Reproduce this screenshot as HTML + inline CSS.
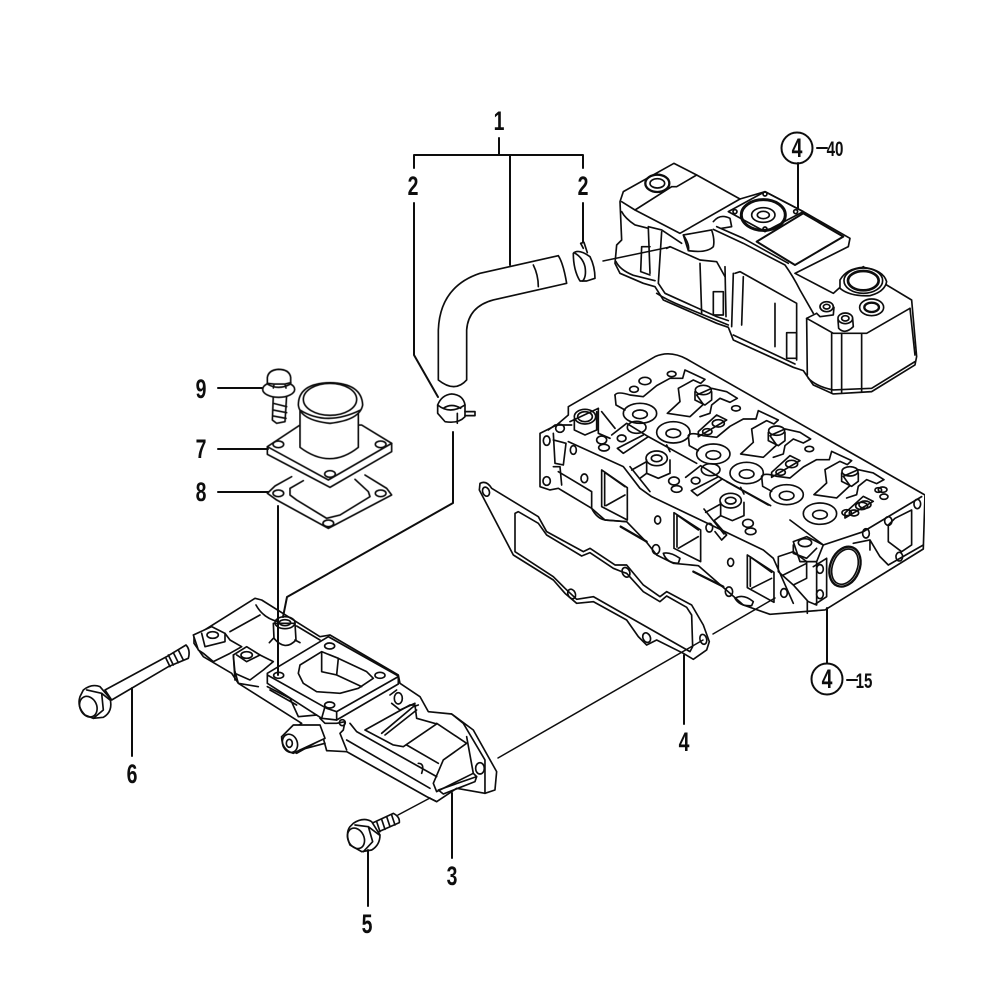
<!DOCTYPE html>
<html><head><meta charset="utf-8"><style>
html,body{margin:0;padding:0;background:#fff}
svg{display:block}
.l{fill:none;stroke:#111;stroke-width:1.6;stroke-linejoin:round;stroke-linecap:round}
.z path,.z ellipse,.z circle,.z line,.z polyline{stroke-width:5}
.w{fill:#fff}
.n{font:bold 27px "Liberation Sans",sans-serif;fill:#111;text-anchor:middle}
.m{font:bold 21px "Liberation Sans",sans-serif;fill:#111;text-anchor:middle}
</style></head><body>
<svg width="1000" height="1000" viewBox="0 0 1000 1000" xmlns="http://www.w3.org/2000/svg">
<defs>
<filter id="b" x="0" y="0" width="100%" height="100%"><feGaussianBlur stdDeviation="0.3"/></filter>
<g id="unit" fill="none" stroke="#111" stroke-width="5" stroke-linejoin="round">
<path d="M255 150Q262 138 300 150L340 155L380 122L420 100L458 100L465 75L525 103L512 115L490 105L445 130L450 170L412 205L480 215L520 178L500 150L545 130L590 140L622 160L600 172L570 160L545 180L540 205L510 215"/>
<path d="M255 150L258 180L285 195"/>
<ellipse cx="330" cy="205" rx="50" ry="30"/><ellipse cx="330" cy="208" rx="22" ry="13"/>
<ellipse cx="430" cy="262" rx="50" ry="32"/><ellipse cx="430" cy="265" rx="22" ry="13"/>
<ellipse cx="520" cy="135" rx="24" ry="14"/>
<path d="M495 140V165L525 180L545 165V140"/>
<ellipse cx="565" cy="235" rx="18" ry="11"/><ellipse cx="532" cy="260" rx="14" ry="9"/>
<ellipse cx="618" cy="190" rx="13" ry="8"/>
<path d="M505 260L560 210L590 225L505 275Z"/>
</g>
<g id="pocket" fill="none" stroke="#111" stroke-width="5" stroke-linejoin="round">
<ellipse cx="320" cy="247" rx="28" ry="18"/>
<path d="M245 270L290 235L355 275L280 325L262 310L340 270"/>
<ellipse cx="275" cy="280" rx="13" ry="10"/>
<ellipse cx="380" cy="340" rx="32" ry="22"/><ellipse cx="380" cy="340" rx="16" ry="10"/>
<path d="M350 345V385L385 400L420 385V345"/>
<path d="M305 375L350 350M330 400L350 385"/>
<ellipse cx="432" cy="408" rx="16" ry="12"/><ellipse cx="440" cy="432" rx="16" ry="10"/>
<path d="M355 275L500 355M420 320L410 300"/>
<path d="M300 365L360 440"/>
</g>
</defs>
<g filter="url(#b)">

<!-- Valve cover -->
<g class="l z" transform="translate(600 130) scale(.3333)">
<path class="w" d="M70 185L222 100L290 135L420 207L495 185L610 245L750 325L745 350L585 430L700 490L790 410L860 465L935 510L950 680L945 705L815 785L700 792L640 765L610 722L580 712L400 630L385 592L350 580L190 510L165 470L130 460L60 430L45 400L50 345L65 330L60 215Z"/>
<path d="M105 240L215 170M215 170L230 170L290 135M105 240L240 310L420 207M105 240L65 215"/>
<path d="M65 245Q75 265 105 285L145 295L150 430M145 290L185 300L245 340"/>
<ellipse cx="172" cy="160" rx="36" ry="26" style="stroke-width:7"/><ellipse cx="172" cy="160" rx="22" ry="14"/>
<path d="M125 350L122 425L150 435M125 350L150 350"/>
<path d="M48 395Q60 420 100 436L165 452M170 490Q200 510 250 530L385 585M400 615L585 702M625 745Q650 770 700 780L815 775L945 695"/>
<path d="M185 305L175 460L195 490L350 560L385 572"/>
<path d="M300 400L305 550M375 410L378 560"/>
<path d="M200 355L210 350L300 390L350 395L375 440"/>
<path d="M340 485H370V555H340Z"/>
<path class="w" d="M250 315L335 300Q345 330 340 350Q320 370 265 362Z"/>
<path d="M250 315Q270 345 265 362"/>
<path d="M385 245L495 185L610 245L495 305Z"/>
<ellipse cx="490" cy="255" rx="66" ry="46" style="stroke-width:9"/>
<ellipse cx="490" cy="255" rx="35" ry="22"/><ellipse cx="490" cy="255" rx="18" ry="11"/>
<circle cx="495" cy="192" r="6"/><circle cx="587" cy="245" r="6"/><circle cx="495" cy="297" r="6"/><circle cx="405" cy="245" r="6"/>
<path d="M340 275Q360 250 390 265L395 290L365 295"/>
<path d="M470 335L610 250L730 320L585 405Z" style="stroke-width:6"/>
<path d="M340 298L430 340L555 405Q580 440 600 480L640 550"/>
<path d="M350 290L430 325L565 400"/>
<path d="M405 430L420 425L590 520L590 690"/>
<path d="M400 430L395 590M430 440L425 585M525 520L525 650"/>
<path d="M560 608H590V685H560Z"/>
<path class="w" d="M720 450Q740 415 790 412Q850 420 860 455Q855 485 810 497Q750 500 720 475Z"/>
<ellipse cx="790" cy="452" rx="58" ry="38"/><ellipse cx="790" cy="452" rx="46" ry="29" style="stroke-width:8"/>
<ellipse cx="815" cy="532" rx="36" ry="25"/><ellipse cx="815" cy="532" rx="22" ry="14" style="stroke-width:7"/>
<ellipse cx="680" cy="530" rx="20" ry="15"/><ellipse cx="680" cy="530" rx="10" ry="7"/>
<path d="M650 550L660 560L700 555L702 532"/>
<ellipse cx="736" cy="565" rx="22" ry="16"/><ellipse cx="736" cy="565" rx="11" ry="8"/>
<path d="M714 570L716 595Q735 615 760 590L758 565"/>
<path d="M620 565L700 610L800 610L930 535"/><path d="M620 565L622 735M650 550L620 565"/>
<path d="M695 610V790M725 612V790M785 612V785"/>
<path d="M930 535L945 675"/>
</g>

<!-- Cylinder head -->
<g class="l z" transform="translate(530 345) scale(.3333)">
<path class="w" d="M115 185L375 35Q420 15 470 42L1185 450L1180 612L885 795L720 808L640 780L600 745L505 662L430 655L380 630L350 592L290 530L225 525L185 490L85 430L60 435L30 425V265L80 240L115 210Z"/>
<use href="#unit"/><use href="#unit" transform="translate(220 122)"/><use href="#unit" transform="translate(440 244)"/>
<ellipse cx="345" cy="108" rx="18" ry="11"/><ellipse cx="312" cy="133" rx="13" ry="9"/><ellipse cx="425" cy="87" rx="13" ry="8"/>
<ellipse cx="1045" cy="435" rx="10" ry="7"/><ellipse cx="1062" cy="455" rx="12" ry="8"/><ellipse cx="995" cy="483" rx="18" ry="11"/><ellipse cx="950" cy="503" rx="14" ry="9"/>
<use href="#pocket"/>
<use href="#pocket" transform="translate(222 127)"/>
<path d="M120 230L205 190M590 410L715 480M780 525L880 600"/>
<ellipse cx="165" cy="215" rx="22" ry="15"/><ellipse cx="165" cy="215" rx="32" ry="22"/>
<path d="M133 222V255L165 270L200 255V200"/>
<path d="M205 190V265L240 280M215 200L255 250"/>
<ellipse cx="215" cy="285" rx="15" ry="12"/><ellipse cx="222" cy="308" rx="16" ry="10"/>
<ellipse cx="90" cy="250" rx="13" ry="12"/>
<path d="M55 255L75 240L125 240M70 265L75 355L100 360L108 295L70 285"/>
<ellipse cx="50" cy="287" rx="10" ry="14"/><ellipse cx="50" cy="408" rx="11" ry="13"/>
<path d="M70 365L90 365L95 420"/>
<path d="M115 290L280 365L330 430L365 455L700 615L730 640L790 775"/>
<ellipse cx="130" cy="315" rx="9" ry="13"/><ellipse cx="163" cy="400" rx="10" ry="13"/>
<ellipse cx="383" cy="525" rx="9" ry="12"/><ellipse cx="538" cy="548" rx="10" ry="13"/><ellipse cx="602" cy="652" rx="9" ry="12"/>
<ellipse cx="378" cy="613" rx="11" ry="14"/><ellipse cx="597" cy="740" rx="11" ry="14"/><ellipse cx="762" cy="744" rx="10" ry="13"/>
<path d="M215 375L292 428V525L215 485Z"/><path d="M224 482V382L285 425"/><line x1="228" y1="482" x2="285" y2="450"/>
<path d="M432 503L512 555V650L432 610Z"/><path d="M441 606V510L505 555"/><line x1="445" y1="610" x2="505" y2="575"/>
<path d="M652 630L732 682V772L652 728Z"/><path d="M661 724V636L725 682"/><line x1="665" y1="730" x2="725" y2="700"/>
<path d="M185 470V490Q200 520 225 525L290 530M85 380L185 440V490"/>
<path d="M272 545L350 590" style="stroke-width:7"/><path d="M490 680L580 725" style="stroke-width:7"/>
<path d="M400 625Q420 620 450 640L445 655Q410 655 400 625Z"/><path d="M615 760Q640 745 670 770L665 782Q630 785 615 760Z"/>
<path d="M555 530L590 570L575 585L555 560"/>
<path class="w" d="M790 590L830 575L880 600L860 650L810 650Z"/>
<ellipse cx="825" cy="593" rx="20" ry="12"/><path d="M790 600V625L830 640L860 610"/>
<path d="M745 635L790 620L830 650L830 700L790 720L745 680ZM760 690L830 655M790 720L835 770L860 780V650"/>
<path d="M850 665L890 640V755L855 778"/>
<ellipse cx="870" cy="672" rx="10" ry="13"/><ellipse cx="870" cy="748" rx="10" ry="13"/>
<path d="M880 600L1000 560L1175 455"/>
<ellipse cx="945" cy="665" rx="44" ry="62" transform="rotate(22 945 665)" style="stroke-width:7"/>
<ellipse cx="945" cy="665" rx="37" ry="55" transform="rotate(22 945 665)"/>
<path d="M970 595L1020 585L1050 635L1075 660L1180 600M1020 585V615"/>
<ellipse cx="1008" cy="565" rx="10" ry="14"/><ellipse cx="1075" cy="528" rx="11" ry="13"/><ellipse cx="1162" cy="477" rx="10" ry="14"/><ellipse cx="1108" cy="635" rx="10" ry="13"/>
<path d="M1095 520L1145 495V600L1115 620L1075 590L1075 540Z"/>
<line x1="832" y1="770" x2="832" y2="805"/>
</g>

<!-- Gasket -->
<g class="l z" transform="translate(470 470) scale(.3333)">
<path d="M30 40Q50 30 65 55L205 140L230 185L340 245L360 235L435 285L470 285L520 345L570 380L590 365L665 405L700 465L718 515L710 540L670 568L640 550L560 510L530 525L505 500L470 450L370 395L320 400L285 370L250 330L130 255L28 60Z"/>
<ellipse cx="48" cy="65" rx="10" ry="14" transform="rotate(-20 48 65)"/>
<ellipse cx="468" cy="307" rx="11" ry="15" transform="rotate(-25 468 307)"/>
<ellipse cx="305" cy="372" rx="11" ry="15" transform="rotate(-25 305 372)"/>
<ellipse cx="530" cy="503" rx="11" ry="15" transform="rotate(-25 530 503)"/>
<ellipse cx="700" cy="508" rx="10" ry="15" transform="rotate(-15 700 508)"/>
<path d="M135 130L145 125L205 160L230 195L335 258L360 248L430 295L455 305L470 310L520 365L570 395L590 378L650 412L665 435L668 530L660 545L370 380L320 388L285 355L250 320L135 245Z"/>
</g>

<!-- Hose and clamps -->
<g class="l z" transform="translate(400 100) scale(.3333)">
<path class="w" d="M115 840V690Q120 560 240 520L475 467Q490 490 500 550L280 600Q205 620 200 690V840Q165 880 115 840Z"/>
<path d="M400 495Q415 525 415 560"/>
<path class="w" d="M520 460Q535 445 570 470Q585 500 585 535L560 543H540Q520 510 520 460Z"/>
<path d="M522 458Q548 472 555 500Q560 530 548 543"/>
<path d="M550 445L542 430L552 427L562 458"/>
<path class="w" d="M113 915Q125 885 155 882Q190 885 195 915V950Q175 972 135 965L113 940Z"/>
<path d="M113 915Q150 945 195 915M130 925Q155 908 182 925"/>
<path d="M172 940V970M195 935H225V947H195"/>
</g>

<!-- Items 9,7,8 -->
<g class="l z" transform="translate(190 360) scale(.3333)">
<path class="w" d="M250 105L247 180L260 190L285 185L290 105Z"/>
<path d="M250 130L290 140M250 150L290 158M250 168L288 175"/>
<ellipse class="w" cx="266" cy="88" rx="48" ry="24"/>
<path class="w" d="M232 72V52Q236 30 265 28Q298 28 302 52V72Q265 92 232 72Z"/>
<path d="M232 70L252 72H285L302 68M252 72L250 84M285 72L288 84"/>
<path class="w" d="M232 260L330 195L515 195L605 250V275L420 382L232 283Z"/>
<path d="M232 260L415 360L605 250"/>
<ellipse cx="265" cy="253" rx="16" ry="10"/><ellipse cx="572" cy="253" rx="16" ry="10"/><ellipse cx="420" cy="342" rx="16" ry="10"/>
<path class="w" d="M330 130V262Q420 330 505 262V130Z"/>
<path class="w" d="M325 135Q325 70 420 68Q515 70 518 135Q510 180 420 190Q330 180 325 135Z"/>
<ellipse cx="420" cy="118" rx="80" ry="48"/>
<path d="M330 150Q410 200 512 150"/>
<path d="M305 350L255 378L232 400L260 420L415 505L605 405L590 385L525 345"/>
<path d="M340 362L300 385V405L320 420L410 475L450 465L540 410L535 395L495 358"/>
<ellipse cx="265" cy="400" rx="16" ry="10"/><ellipse cx="572" cy="400" rx="16" ry="10"/><ellipse cx="415" cy="490" rx="16" ry="10"/>
</g>

<!-- Manifold -->
<g class="l z" transform="translate(180 590) scale(.3333)">
<path class="w" d="M42 140L225 25L245 30L420 140L450 135L655 255L660 280L720 320L745 365L815 372L880 420L950 545L945 600L915 610L830 595L770 635L740 620L500 485L440 482L430 445L350 490L310 470L305 440L365 400L175 280L155 250L70 200L42 160Z"/>
<path d="M150 125L240 75M228 45Q250 85 295 95"/>
<path class="w" d="M280 100L282 145Q315 185 348 150L345 100Z"/>
<ellipse cx="315" cy="98" rx="30" ry="18"/><ellipse cx="315" cy="98" rx="17" ry="9"/>
<path d="M268 158L280 145M345 150L360 158M350 108L420 150"/>
<path class="w" d="M40 135L95 110L135 130L150 150L185 170L150 190L100 215L70 190L55 180Z"/>
<path d="M65 130L75 170L135 155L135 130"/>
<ellipse cx="98" cy="135" rx="17" ry="10"/>
<path class="w" d="M160 195L200 170L240 195L280 215L250 240L210 270L165 250Z"/>
<path d="M160 195L165 270"/>
<ellipse cx="200" cy="195" rx="17" ry="10"/>
<path d="M170 195L200 215L240 195"/>
<path class="w" d="M262 250L445 140L655 258L655 282L470 390L425 385L262 280Z"/>
<path d="M262 255L440 355L470 365L655 260M435 350L425 385M470 365V390"/>
<ellipse cx="449" cy="168" rx="15" ry="9"/><ellipse cx="600" cy="256" rx="15" ry="9"/><ellipse cx="449" cy="345" rx="15" ry="9"/><ellipse cx="296" cy="256" rx="15" ry="9"/>
<path d="M360 225L425 185L475 205L560 245L580 265L535 295L480 310L410 305L370 280L355 250Z"/>
<path d="M425 185V245L470 255L475 205M470 255L545 290"/>
<path d="M262 290L330 325L355 380L410 375M270 300L350 345"/>
<path d="M165 245L175 280L235 290"/>
<path class="w" d="M340 405L420 405L435 445L360 480L340 490Q305 480 305 440Z"/>
<ellipse cx="330" cy="460" rx="22" ry="28" transform="rotate(-20 330 460)"/><ellipse cx="328" cy="460" rx="9" ry="12"/>
<path d="M420 385L435 400L470 400L495 395L490 420L480 430L500 480M360 480L435 460M510 400L530 425L770 560"/>
<circle cx="487" cy="398" r="9"/>
<path d="M500 450L750 595M555 420L690 345L705 345L710 385L770 402L670 470L640 465L555 420Z"/>
<path d="M605 430L700 350L715 345M615 435L710 360"/>
<ellipse cx="655" cy="325" rx="12" ry="17"/><path d="M630 315L650 300M635 340L660 360L705 340"/>
<path d="M680 465L775 520M770 400L860 460L790 510L760 580L770 605L880 550"/>
<path d="M715 520Q735 520 725 550"/>
<path d="M775 600L890 560L885 575L790 612Z"/>
<path d="M750 625L770 635M860 440L880 550L890 560"/>
<ellipse cx="900" cy="535" rx="13" ry="17"/>
<path d="M815 372L850 400L915 510L915 610"/>
</g>

<!-- Bolts -->
<g class="l z" transform="translate(60 630) scale(.3333)">
<path class="w" d="M135 180L320 80L378 45Q392 60 385 85L325 110L155 210Z"/>
<path d="M325 75L340 105M340 68L355 98M355 60L370 90M318 85L330 110"/>
<path class="w" d="M70 180Q95 160 120 170L150 205Q160 245 130 262L100 265L75 255Q50 230 60 200Z"/>
<ellipse cx="85" cy="230" rx="25" ry="32" transform="rotate(-25 85 230)"/>
<path d="M80 180L125 190L130 240L100 265M125 190L150 210"/>
</g>
<g class="l z" transform="translate(330 790) scale(.3333)">
<path class="w" d="M125 100L190 70Q210 80 208 98L135 130Z"/>
<path d="M140 95L150 125M155 88L165 118M170 80L180 110M185 75L195 105"/>
<path class="w" d="M70 100Q100 80 125 95L150 135Q150 165 125 180L95 185L60 165Q45 130 60 110Z"/>
<ellipse cx="78" cy="145" rx="24" ry="32" transform="rotate(-25 78 145)"/>
<path d="M75 105L115 110L128 155L100 185M115 110L148 135"/>
</g>

<!-- Leaders -->
<g class="l" style="stroke-width:2">
<path d="M499 138V155M414 168V155H583V168M510 155V265"/>
<path d="M414 203V355L438 397M583 203V242"/>
<path d="M453 432V503L287 597L283 617M278 506V675"/>
<path d="M218 388H262M218 449H268M218 492H268"/>
<path d="M132 688V756M368 850V906M452 793V858M684 655V724M827 608V663M798 163V208"/>
<circle cx="797" cy="148" r="15.5"/><circle cx="827" cy="679" r="15.5"/>
</g>
<g class="l" style="stroke-width:1.5">
<path d="M498 758L703 640M713 634L775 598M398 815L430 798M603 261L670 247"/>
<path d="M817 148H827M847 680H857" style="stroke-width:2"/>
</g>

<!-- Labels -->
<text class="n" transform="translate(499 130) scale(.72 1)">1</text>
<text class="n" transform="translate(413 195) scale(.72 1)">2</text>
<text class="n" transform="translate(583 195) scale(.72 1)">2</text>
<text class="n" transform="translate(201 398) scale(.72 1)">9</text>
<text class="n" transform="translate(201 458) scale(.72 1)">7</text>
<text class="n" transform="translate(201 501) scale(.72 1)">8</text>
<text class="n" transform="translate(132 783) scale(.72 1)">6</text>
<text class="n" transform="translate(452 885) scale(.72 1)">3</text>
<text class="n" transform="translate(367 933) scale(.72 1)">5</text>
<text class="n" transform="translate(684 751) scale(.72 1)">4</text>
<text class="n" transform="translate(797 157) scale(.72 1)">4</text>
<text class="n" transform="translate(827 688) scale(.72 1)">4</text>
<text class="m" transform="translate(835 156) scale(.72 1)">40</text>
<text class="m" transform="translate(864 688) scale(.72 1)">15</text>
</g>
</svg>
</body></html>
